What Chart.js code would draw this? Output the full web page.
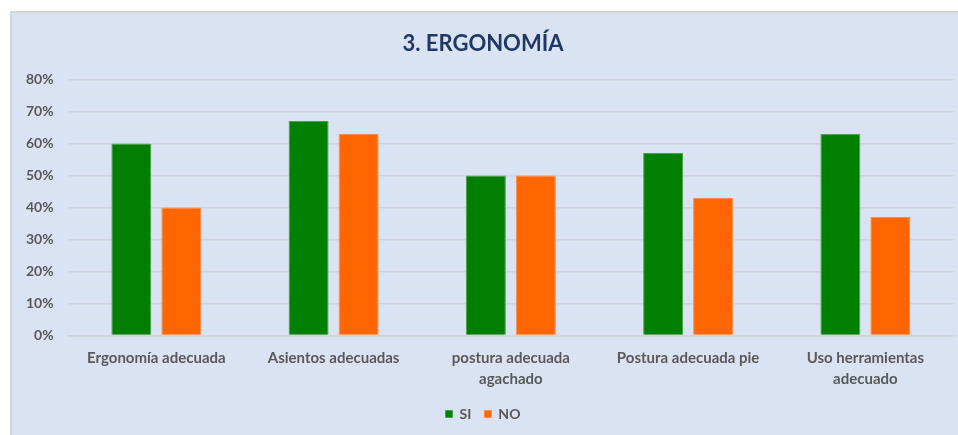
<!DOCTYPE html>
<html>
<head>
<meta charset="utf-8">
<script src="https://cdn.jsdelivr.net/npm/chart.js@4"></script>
<style>
    html, body { margin: 0; padding: 0; background: #ffffff; }
    #box {
        position: absolute;
        left: 10px;
        top: 11px;
        width: 946px;
        height: 422px;
        background: #DAE3F3;
        border-left: 2px solid #D2D4D8;
        border-top: 2px solid #D2D4D8;
    }
</style>
</head>
<body>
<div id="box"><canvas id="ergoChart" width="946" height="422"></canvas></div>
<script>
// data
const categories = ['Ergonomía adecuada', 'Asientos adecuadas', ['postura adecuada', 'agachado'], 'Postura adecuada pie', ['Uso herramientas', 'adecuado']];
const siValues = [0.60, 0.67, 0.50, 0.57, 0.63];
const noValues = [0.40, 0.63, 0.50, 0.43, 0.37];
const yTicks = [0, 0.1, 0.2, 0.3, 0.4, 0.5, 0.6, 0.7, 0.8];

const labelGray = '#595959';
const fontFam = 'Lato, "Open Sans", sans-serif';

const ctx = document.getElementById('ergoChart').getContext('2d');
const ergoChart = new Chart(ctx, {
    type: 'bar',
    data: {
        labels: categories,
        datasets: [{
            label: 'SI',
            data: siValues,
            backgroundColor: '#007F00',
            borderColor: '#4E9E4E',
            borderWidth: 1,
            categoryPercentage: 0.564,
            barPercentage: 0.8
        }, {
            label: 'NO',
            data: noValues,
            backgroundColor: '#FF6600',
            borderColor: '#FF8A40',
            borderWidth: 1,
            categoryPercentage: 0.564,
            barPercentage: 0.8
        }]
    },
    options: {
        responsive: false,
        animation: false,
        layout: {
            padding: { left: 0, right: 4, bottom: 4 }
        },
        plugins: {
            title: {
                display: true,
                text: '3. ERGONOMÍA',
                color: '#203864',
                font: { family: fontFam, size: 22, weight: 'bold' },
                padding: { top: 18, bottom: 22 }
            },
            legend: {
                position: 'bottom',
                labels: {
                    boxWidth: 7,
                    boxHeight: 7,
                    padding: 13,
                    color: labelGray,
                    font: { family: fontFam, size: 14, weight: 'bold' }
                }
            },
            tooltip: { enabled: false }
        },
        scales: {
            x: {
                grid: { display: false },
                border: { color: '#D0D3D8', width: 1.5 },
                ticks: {
                    color: labelGray,
                    maxRotation: 0,
                    padding: 5,
                    font: { family: fontFam, size: 15, weight: 'bold', lineHeight: 1.35 }
                }
            },
            y: {
                min: 0,
                max: 0.8,
                afterBuildTicks: axis => { axis.ticks = yTicks.map(v => ({ value: v })); },
                grid: { color: '#D0D3D8', lineWidth: 1.5, drawTicks: false },
                border: { display: false },
                ticks: {
                    color: labelGray,
                    padding: 14,
                    font: { family: fontFam, size: 14, weight: 'bold' },
                    callback: v => Math.round(v * 100) + '%'
                }
            }
        }
    }
});
</script>
</body>
</html>
